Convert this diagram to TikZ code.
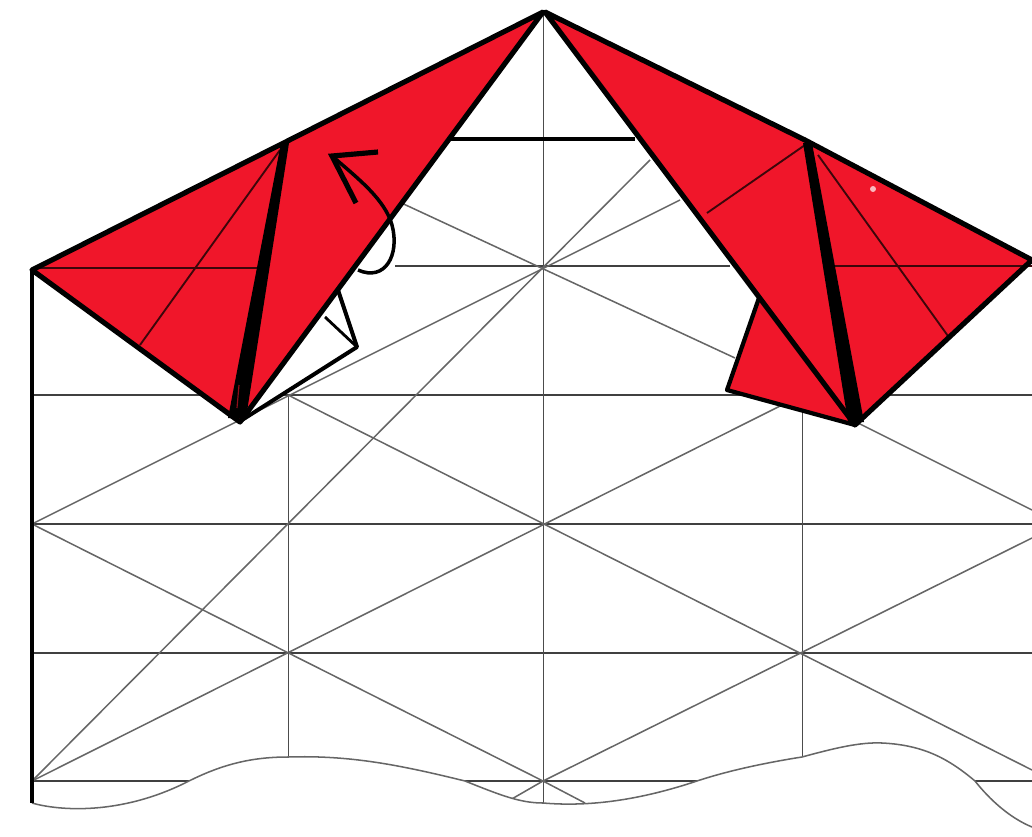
\documentclass[tikz,border=0pt]{standalone}
\definecolor{foldred}{RGB}{240,22,42}
\tikzset{
  grid line/.style={black!75,line width=1.5pt},
  thin line/.style={black!70,line width=0.7pt},
  diag line/.style={black!60,line width=1.3pt},
  heavy line/.style={black,line width=4.4pt,line join=round},
  crease line/.style={black!75!foldred,line width=1.6pt},
}
\begin{document}
\begin{tikzpicture}[x=0.03cm,y=-0.03cm]

\useasboundingbox (0,0) rectangle (1032,836);

% Waagerechte
\draw[grid line] (395,266) -- (730,266);
\draw[grid line] (32,395) -- (1032,395);
\draw[grid line] (32,524) -- (1032,524);
\draw[grid line] (32,653) -- (1032,653);
\draw[grid line] (32,781) -- (1032,781);

% Senkrechte
\draw[thin line] (288,395) -- (288,760);
\draw[thin line] (543,12) -- (543,803);
\draw[thin line] (802,395) -- (802,760);

% Diagonalen
\draw[diag line] (32,524) -- (680,200);
\draw[diag line] (32,781) -- (802,395);
\draw[diag line] (543,781) -- (1032,538);
\draw[diag line] (395,200) -- (735,358);
\draw[diag line] (288,395) -- (1032,770);
\draw[diag line] (32,524) -- (543,781);
\draw[diag line] (802,395) -- (1032,510);
\draw[diag line] (32,781) -- (650,160);
\draw[diag line] (543,781) -- (510,800);
\draw[diag line] (543,781) -- (585,803);

% Abriss unten
\fill[white] (32,803) .. controls (60,811) and (120,815) .. (185,783)
  .. controls (220,765) and (250,757) .. (288,757)
  .. controls (350,755) and (400,765) .. (465,781)
  .. controls (500,795) and (520,803) .. (543,803)
  .. controls (590,807) and (640,800) .. (697,781)
  .. controls (730,770) and (770,762) .. (802,757)
  .. controls (835,748) and (860,742) .. (882,743)
  .. controls (925,745) and (950,760) .. (975,781)
  .. controls (990,800) and (1010,818) .. (1032,827)
  -- (1032,836) -- (0,836) -- (0,803) -- cycle;
\draw[diag line] (32,803) .. controls (60,811) and (120,815) .. (185,783)
  .. controls (220,765) and (250,757) .. (288,757)
  .. controls (350,755) and (400,765) .. (465,781)
  .. controls (500,795) and (520,803) .. (543,803)
  .. controls (590,807) and (640,800) .. (697,781)
  .. controls (730,770) and (770,762) .. (802,757)
  .. controls (835,748) and (860,742) .. (882,743)
  .. controls (925,745) and (950,760) .. (975,781)
  .. controls (990,800) and (1010,818) .. (1032,827);

% Rand links
\draw[heavy line,line width=3.2pt] (32,270) -- (32,803);
\draw[heavy line,line width=3.4pt] (450,139) -- (635,139);

% linke Klappe (weiss)
\draw[heavy line,line width=3.4pt,fill=white] (242,420) -- (357,347) -- (338,290);
\draw[black,line width=2.4pt] (325,317) -- (357,347);

% linker Teil
\fill[foldred] (32,270) -- (285,143) -- (543,12) -- (240,422) -- cycle;
\draw[crease line] (32,268) -- (258,268);
\draw[crease line] (140,345) -- (280,150);
\draw[heavy line] (240,422) -- (32,270) -- (543,12) -- cycle;
\fill[black] (281,143) -- (289,143) -- (246,418) -- (228,418) -- cycle;
\draw[black!40!foldred,line width=1pt] (239,385) -- (237,408);

% rechter Teil
\fill[foldred] (760,295) -- (727,390) -- (855,425) -- cycle;
\draw[heavy line,line width=3.6pt] (760,295) -- (727,390) -- (855,425);
\fill[foldred] (545,12) -- (805,140) -- (1032,260) -- (855,425) -- cycle;
\draw[crease line] (707,213) -- (805,145);
\draw[crease line] (818,155) -- (948,336);
\draw[crease line] (830,266) -- (1032,266);
\draw[heavy line] (855,425) -- (545,12) -- (805,140) -- (1032,260) -- cycle;
\fill[black] (803,143) -- (812,143) -- (864,422) -- (848,422) -- cycle;
\fill[white!70!foldred] (873,189) circle (3);

% Pfeil
\draw[black,line width=3pt] (358,270) .. controls (385,282) and (400,255) .. (392,225)
  .. controls (385,200) and (360,180) .. (332,156);
\draw[black,line width=4.4pt,line join=miter] (378,152) -- (332,156) -- (356,203);

\end{tikzpicture}
\end{document}
